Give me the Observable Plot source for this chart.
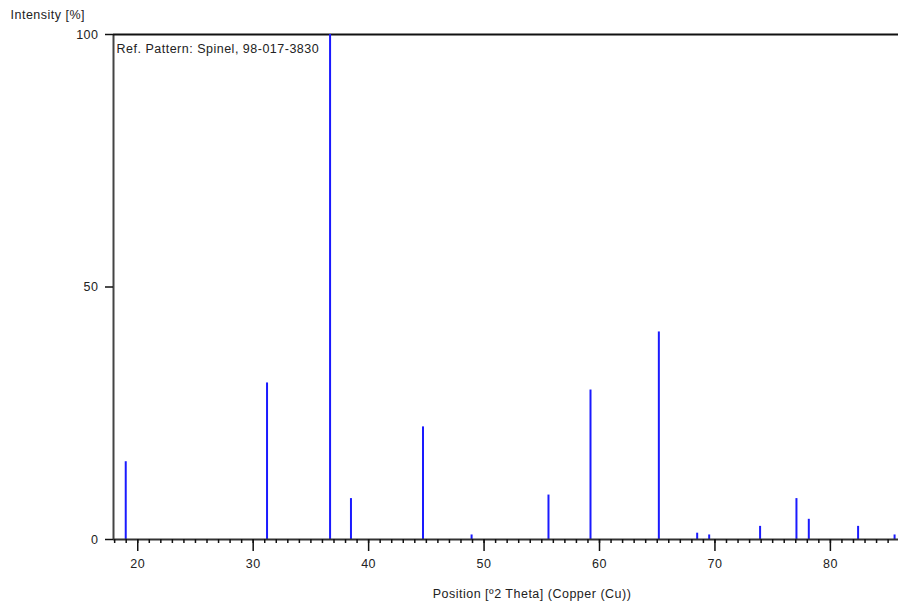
<!DOCTYPE html>
<html>
<head>
<meta charset="utf-8">
<script src="https://cdn.jsdelivr.net/npm/d3@7"></script>
<script src="https://cdn.jsdelivr.net/npm/@observablehq/plot@0.6"></script>
<style>
  html, body { margin: 0; padding: 0; background: #fff; }
  #chart svg { display: block; }
  #chart svg text { letter-spacing: 0.5px; }
</style>
</head>
<body>
<div id="chart"></div>
<script>
// Peak positions [°2θ] and relative intensities [%]
const positions   = [18.96, 31.20, 36.66, 38.47, 44.71, 48.92, 55.58, 59.22, 65.14, 68.46, 69.50, 73.91, 77.06, 78.13, 82.40, 85.56];
const intensities = [15.4, 31.0, 100, 8.1, 22.3, 0.9, 8.8, 29.6, 41.1, 1.25, 0.9, 2.6, 8.1, 4.0, 2.6, 0.9];
const xMajorTicks = [20, 30, 40, 50, 60, 70, 80];
const xMinorTicks = d3.range(18, 86);
const yTicks = [0, 50, 100];
const xDomain = [17.9, 85.9];
const yDomain = [0, 100];
const title = "Ref. Pattern: Spinel, 98-017-3830";
const xLabel = "Position [º2 Theta] (Copper (Cu))";
const yLabel = "Intensity [%]";

const peaks = positions.map((p, i) => ({position: p, intensity: intensities[i]}));

const font = "Liberation Sans, Arial, sans-serif";

const chart = Plot.plot({
  width: 900,
  height: 608,
  marginLeft: 113,
  marginRight: 2,
  marginTop: 34,
  marginBottom: 69,
  style: {fontFamily: font, fontSize: "12.5px", color: "#222", background: "#fff", overflow: "visible"},
  x: {domain: xDomain},
  y: {domain: yDomain},
  marks: [
    // frame: left, top, bottom
    Plot.ruleX([xDomain[0]], {y1: yDomain[0], y2: yDomain[1], stroke: "#444", strokeWidth: 2}),
    Plot.ruleY([yDomain[1]], {stroke: "#111", strokeWidth: 2}),
    // peaks
    Plot.ruleX(peaks, {x: "position", y1: 0, y2: "intensity", stroke: "#1a1aff", strokeWidth: 2}),
    Plot.ruleY([0], {stroke: "#333", strokeWidth: 2}),
    // axes
    Plot.axisX({ticks: xMinorTicks, tickSize: 4, text: null, label: null, stroke: "#111", strokeWidth: 1.5}),
    Plot.axisX({ticks: xMajorTicks, tickSize: 12, tickPadding: 8, label: null, stroke: "#111", strokeWidth: 1.5, fill: "#222"}),
    Plot.axisY({ticks: yTicks, tickSize: 8, tickPadding: 7, label: null, stroke: "#111", strokeWidth: 1.5, fill: "#222"}),
    // texts
    Plot.text([title], {frameAnchor: "top-left", dx: 3, dy: 10, textAnchor: "start", fill: "#222"}),
    Plot.text([yLabel], {frameAnchor: "top-left", dx: -103, dy: -24, textAnchor: "start", fill: "#222"}),
    Plot.text([xLabel], {frameAnchor: "bottom", dx: 26, dy: 58, fill: "#222"})
  ]
});
document.getElementById("chart").append(chart);
</script>
</body>
</html>
